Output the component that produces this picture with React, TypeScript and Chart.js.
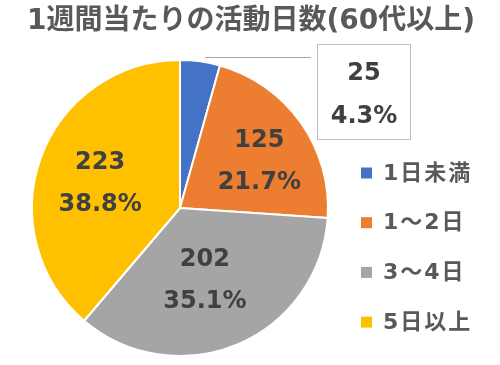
import React, { useEffect, useRef } from "react";
import { Chart, registerables } from "chart.js";

Chart.register(...registerables);

const titleText = "1週間当たりの活動日数(60代以上)";
const categories = ["1日未満", "1～2日", "3～4日", "5日以上"];
const counts = [25, 125, 202, 223];
const colors = ["#4472C4", "#ED7D31", "#A5A5A5", "#FFC000"];
// label placement: fraction of radius, angle shift (deg)
const labelRadius = [0.6, 0.62, 0.52, 0.565];
const labelShift = [0, 5, 4, -3];

const FONT = "'DejaVu Sans', 'Noto Sans CJK JP', sans-serif";

const total = counts.reduce((a, b) => a + b, 0);
const pctLabels = counts.map((v) => ((v / total) * 100).toFixed(1) + "%");

const overlayPlugin = {
  id: "overlay",
  afterDraw(chart: any) {
    const ctx = chart.ctx as CanvasRenderingContext2D;
    ctx.save();
    // title
    ctx.fillStyle = "#595959";
    ctx.font = `bold 28px ${FONT}`;
    ctx.textAlign = "center";
    ctx.textBaseline = "middle";
    ctx.fillText(titleText, 251, 22);

    const meta = chart.getDatasetMeta(0);
    meta.data.forEach((arc: any, i: number) => {
      const p = arc.getProps(["x", "y", "startAngle", "endAngle", "outerRadius"], true);
      if (i === 0) {
        // callout
        ctx.strokeStyle = "#A6A6A6";
        ctx.lineWidth = 1;
        ctx.beginPath();
        ctx.moveTo(205, 57.5);
        ctx.lineTo(311, 57.5);
        ctx.stroke();
        ctx.fillStyle = "#FFFFFF";
        ctx.fillRect(317.5, 44.5, 93, 95);
        ctx.strokeStyle = "#BFBFBF";
        ctx.strokeRect(317.5, 44.5, 93, 95);
        ctx.fillStyle = "#404040";
        ctx.font = `bold 24px ${FONT}`;
        ctx.fillText(String(counts[i]), 364, 74);
        ctx.fillText(pctLabels[i], 364, 117);
        return;
      }
      const mid = (p.startAngle + p.endAngle) / 2 + (labelShift[i] * Math.PI) / 180;
      const r = p.outerRadius * labelRadius[i];
      const x = p.x + Math.cos(mid) * r;
      const y = p.y + Math.sin(mid) * r;
      ctx.fillStyle = "#404040";
      ctx.font = `bold 24px ${FONT}`;
      ctx.fillText(String(counts[i]), x, y - 21);
      ctx.fillText(pctLabels[i], x, y + 21);
    });

    // legend
    ctx.textAlign = "left";
    ctx.font = `bold 22px ${FONT}`;
    (ctx as any).letterSpacing = "2px";
    categories.forEach((c, i) => {
      const y = 173 + i * 49.7;
      ctx.fillStyle = colors[i];
      ctx.fillRect(361, y - 5.5, 11, 11);
      ctx.fillStyle = "#595959";
      ctx.fillText(c, 383, y + 1);
    });
    ctx.restore();
  },
};

export default function App() {
  const ref = useRef<HTMLCanvasElement | null>(null);
  useEffect(() => {
    if (!ref.current) return;
    const chart = new Chart(ref.current, {
      type: "pie",
      data: {
        labels: categories,
        datasets: [
          {
            data: counts,
            backgroundColor: colors,
            borderColor: "#FFFFFF",
            borderWidth: 2,
          },
        ],
      },
      options: {
        responsive: false,
        animation: false,
        devicePixelRatio: 1,
        layout: { padding: { left: 31, right: 171, top: 59, bottom: 8 } },
        plugins: {
          legend: { display: false },
          tooltip: { enabled: false },
          title: { display: false },
        },
      },
      plugins: [overlayPlugin],
    });
    return () => chart.destroy();
  }, []);
  return (
    <div style={{ position: "absolute", left: 0, top: 0, width: 500, height: 365, background: "#FFFFFF" }}>
      <canvas ref={ref} width={500} height={365} />
    </div>
  );
}
